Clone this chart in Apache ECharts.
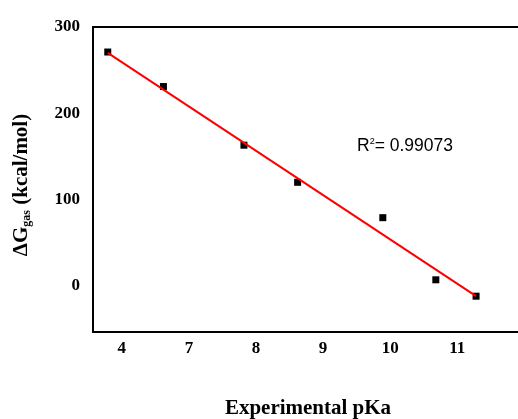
<!DOCTYPE html>
<html>
<head>
<meta charset="utf-8">
<script src="https://cdn.jsdelivr.net/npm/echarts@6/dist/echarts.min.js"></script>
<style>
  html, body { margin: 0; padding: 0; background: #fff; }
  #chart { width: 518px; height: 419px; }
</style>
</head>
<body>
<div id="chart"></div>
<script>
// x positions are in tick-slot units: slot i carries the label xTickLabels[i]
const xTickPos = [0, 1, 2, 3, 4, 5];
const xTickLabels = ['4', '7', '8', '9', '10', '11'];
const yTicks = [0, 100, 200, 300];

// measured points
const xPos = [-0.21, 0.62, 1.82, 2.62, 3.89, 4.68, 5.28];
const dG = [271, 231, 163, 120, 79, 7, -12];

// least-squares trend line endpoints
const trendX = [-0.21, 5.28];
const trendY = [270, -12];

const r2Text = '0.99073';

const chart = echarts.init(document.getElementById('chart'), null, { renderer: 'canvas' });

const serif = '"Liberation Serif", "Times New Roman", serif';
const axisLineStyle = { show: true, onZero: false, lineStyle: { color: '#000', width: 2 } };
const xMin = -0.43, xMax = 5.905;

chart.setOption({
  animation: false,
  backgroundColor: '#fff',
  grid: {
    left: 93, top: 27, right: 0, bottom: 87,
    show: false
  },
  xAxis: [
    {
      type: 'value',
      min: xMin, max: xMax,
      splitLine: { show: false },
      axisLine: axisLineStyle,
      axisTick: { show: false },
      axisLabel: {
        customValues: xTickPos,
        margin: 8,
        color: '#000',
        fontFamily: serif, fontWeight: 'bold', fontSize: 17,
        formatter: v => xTickLabels[Math.round(v)]
      }
    },
    {
      // top frame edge
      type: 'value',
      position: 'top',
      min: xMin, max: xMax,
      splitLine: { show: false },
      axisLine: axisLineStyle,
      axisTick: { show: false },
      axisLabel: { show: false }
    }
  ],
  yAxis: {
    type: 'value',
    min: -53.5, max: 300,
    splitLine: { show: false },
    axisLine: axisLineStyle,
    axisTick: { show: false },
    axisLabel: {
      customValues: yTicks,
      margin: 13,
      color: '#000',
      fontFamily: serif, fontWeight: 'bold', fontSize: 17
    }
  },
  series: [
    {
      type: 'scatter',
      data: xPos.map((x, i) => [x, dG[i]]),
      symbol: 'rect',
      symbolSize: 7,
      itemStyle: { color: '#000', opacity: 1 },
      z: 2
    },
    {
      type: 'line',
      data: trendX.map((x, i) => [x, trendY[i]]),
      showSymbol: false,
      lineStyle: { color: '#ff0000', width: 2 },
      z: 3
    }
  ],
  graphic: [
    {
      type: 'text',
      x: 22, y: 185,
      rotation: Math.PI / 2,
      style: {
        text: '{m|ΔG}{s|gas}{m| (kcal/mol)}',
        align: 'center', verticalAlign: 'middle',
        fill: '#000',
        rich: {
          m: { fontFamily: serif, fontWeight: 'bold', fontSize: 21, lineHeight: 22 },
          s: { fontFamily: serif, fontWeight: 'bold', fontSize: 12, verticalAlign: 'bottom', lineHeight: 22 }
        }
      }
    },
    {
      type: 'text',
      x: 308, y: 409,
      style: {
        text: 'Experimental pKa',
        align: 'center', verticalAlign: 'middle',
        fill: '#000',
        font: 'bold 21px ' + serif
      }
    },
    {
      type: 'text',
      x: 357, y: 146,
      style: {
        text: '{b|R}{p|2}{b|= ' + r2Text + '}',
        align: 'left', verticalAlign: 'middle',
        fill: '#000',
        rich: {
          b: { fontFamily: '"Liberation Sans", Arial, sans-serif', fontSize: 17.5, lineHeight: 18 },
          p: { fontFamily: '"Liberation Sans", Arial, sans-serif', fontSize: 9, verticalAlign: 'top', lineHeight: 18 }
        }
      }
    }
  ]
});
</script>
</body>
</html>
